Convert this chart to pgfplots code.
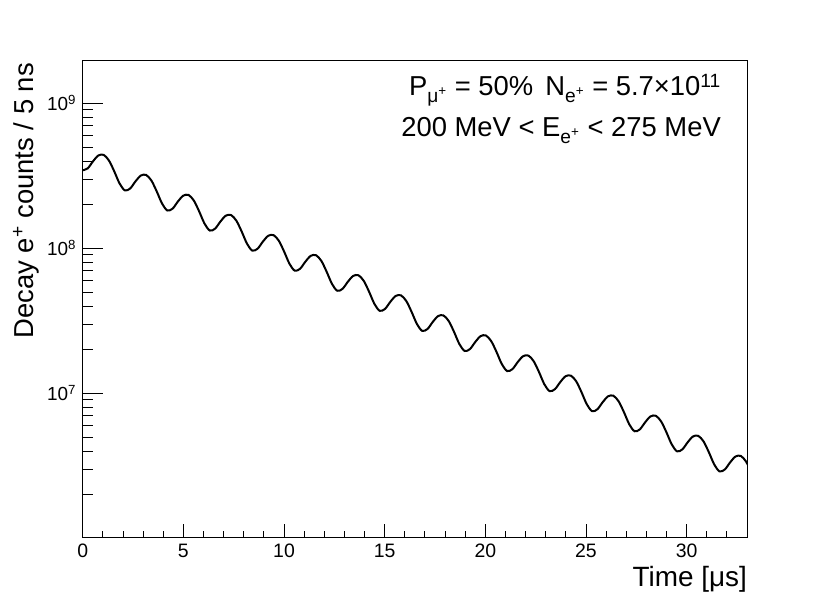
\documentclass[border=0pt]{standalone}
\usepackage{fontspec}
\setmainfont{Liberation Sans}
\usepackage{pgfplots}
\pgfplotsset{compat=1.18}
\begin{document}
\begin{tikzpicture}
\useasboundingbox (0,0) rectangle (830bp,598bp);
\begin{axis}[
  at={(82.7bp,60.3bp)}, anchor=south west,
  scale only axis, width=664.3bp, height=477.7bp,
  xmin=0, xmax=33, ymode=log, ymin=1.01e6, ymax=1.99e9,
  axis line style={line width=0.9bp},
  tick align=inside, xtick pos=left, ytick pos=left,
  every tick/.style={black, line width=0.9bp},
  major tick length=20bp, minor tick length=10bp,
  xtick style={/pgfplots/major tick length=14bp,/pgfplots/minor tick length=7bp},
  xtick={0,5,10,15,20,25,30},
  minor xtick={1,2,3,4,6,7,8,9,11,12,13,14,16,17,18,19,21,22,23,24,26,27,28,29,31,32},
  ytick={1e7,1e8,1e9},
  yticklabels={10\textsuperscript{7},10\textsuperscript{8},10\textsuperscript{9}},
  minor ytick={2e6,3e6,4e6,5e6,6e6,7e6,8e6,9e6,2e7,3e7,4e7,5e7,6e7,7e7,8e7,9e7,2e8,3e8,4e8,5e8,6e8,7e8,8e8,9e8},
  /pgf/number format/assume math mode=true,
  xticklabel style={font=\fontsize{19.5}{22}\selectfont, inner sep=6bp},
  yticklabel style={font=\fontsize{19}{22}\selectfont, inner sep=6.5bp},
  xlabel={Time [μs]},
  xlabel style={at={(axis description cs:1,-0.1026)}, anchor=base east, inner sep=0pt, font=\fontsize{28}{32}\selectfont},
  ylabel={Decay e\textsuperscript{+} counts / 5 ns},
  ylabel style={at={(axis description cs:-0.0748,0.9937)}, anchor=base east, inner sep=0pt, font=\fontsize{27.5}{32}\selectfont},
]
\addplot[smooth, black, line width=2bp, no markers] table {
t y
-0.015 3.449e8
0.24875 3.557e8
0.5125 3.981e8
0.77625 4.366e8
1.04 4.411e8
1.30375 4.032e8
1.5675 3.395e8
1.83125 2.801e8
2.095 2.508e8
2.35875 2.586e8
2.6225 2.895e8
2.88625 3.175e8
3.15 3.207e8
3.41375 2.932e8
3.6775 2.468e8
3.94125 2.036e8
4.205 1.823e8
4.46875 1.880e8
4.7325 2.105e8
4.99625 2.308e8
5.26 2.332e8
5.52375 2.132e8
5.7875 1.795e8
6.05125 1.481e8
6.315 1.326e8
6.57875 1.367e8
6.8425 1.530e8
7.10625 1.678e8
7.37 1.696e8
7.63375 1.550e8
7.8975 1.305e8
8.16125 1.077e8
8.425 9.639e7
8.68875 9.941e7
8.9525 1.113e8
9.21625 1.220e8
9.48 1.233e8
9.74375 1.127e8
10.0075 9.487e7
10.27125 7.827e7
10.535 7.008e7
10.79875 7.228e7
11.0625 8.089e7
11.32625 8.873e7
11.59 8.964e7
11.85375 8.193e7
12.1175 6.898e7
12.38125 5.691e7
12.645 5.096e7
12.90875 5.255e7
13.1725 5.882e7
13.43625 6.451e7
13.70 6.517e7
13.96375 5.957e7
14.2275 5.015e7
14.49125 4.138e7
14.755 3.705e7
15.01875 3.821e7
15.2825 4.276e7
15.54625 4.691e7
15.81 4.739e7
16.07375 4.331e7
16.3375 3.647e7
16.60125 3.009e7
16.865 2.694e7
17.12875 2.778e7
17.3925 3.109e7
17.65625 3.410e7
17.92 3.445e7
18.18375 3.149e7
18.4475 2.651e7
18.71125 2.187e7
18.975 1.959e7
19.23875 2.020e7
19.5025 2.261e7
19.76625 2.480e7
20.03 2.505e7
20.29375 2.290e7
20.5575 1.928e7
20.82125 1.590e7
21.085 1.424e7
21.34875 1.469e7
21.6125 1.644e7
21.87625 1.803e7
22.14 1.821e7
22.40375 1.665e7
22.6675 1.402e7
22.93125 1.156e7
23.195 1.035e7
23.45875 1.068e7
23.7225 1.195e7
23.98625 1.311e7
24.25 1.324e7
24.51375 1.211e7
24.7775 1.019e7
25.04125 8.408e6
25.305 7.528e6
25.56875 7.764e6
25.8325 8.690e6
26.09625 9.531e6
26.36 9.629e6
26.62375 8.801e6
26.8875 7.410e6
27.15125 6.113e6
27.415 5.474e6
27.67875 5.645e6
27.9425 6.318e6
28.20625 6.930e6
28.47 7.001e6
28.73375 6.399e6
28.9975 5.387e6
29.26125 4.445e6
29.525 3.980e6
29.78875 4.105e6
30.0525 4.594e6
30.31625 5.039e6
30.58 5.090e6
30.84375 4.653e6
31.1075 3.917e6
31.37125 3.232e6
31.635 2.894e6
31.89875 2.984e6
32.1625 3.340e6
32.42625 3.664e6
32.69 3.701e6
32.95375 3.383e6
33.2175 2.848e6
};
\node[anchor=base east, inner sep=0pt, font=\fontsize{27.5}{32}\selectfont] at (axis description cs:0.9609,0.9246)
  {P\textsubscript{μ\textsuperscript{+}} = 50\%\ \kern4.5bp N\textsubscript{e\textsuperscript{+}} = 5.7×10\textsuperscript{11}};
\node[anchor=base east, inner sep=0pt, font=\fontsize{27.5}{32}\selectfont] at (axis description cs:0.9609,0.8388)
  {200 MeV < E\textsubscript{e\textsuperscript{+}} < 275 MeV};
\end{axis}
\end{tikzpicture}
\end{document}
